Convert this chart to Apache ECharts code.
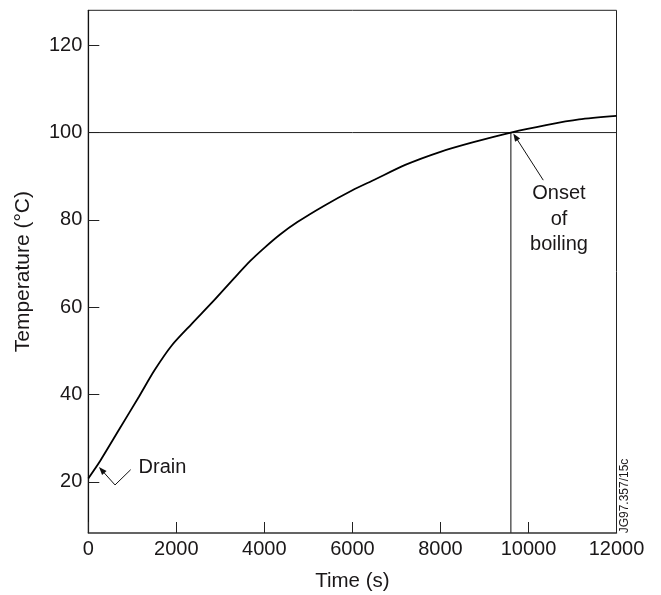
<!DOCTYPE html>
<html>
<head>
<meta charset="utf-8">
<script src="https://cdn.jsdelivr.net/npm/echarts@6/dist/echarts.min.js"></script>
<style>html,body{margin:0;padding:0;background:#fff;}#c{width:661px;height:595px;}</style>
</head>
<body>
<div id="c"></div>
<script>
// Data
var timeS = [0, 250, 700, 1150, 1500, 1900, 2350, 2850, 3300, 3680, 4000, 4350, 4750, 5350, 6000, 6500, 7200, 8000, 8750, 9600, 10400, 11150, 12000];
var tempC = [20.8, 24.5, 32.0, 39.5, 45.5, 51.3, 56.2, 61.5, 66.5, 70.6, 73.6, 76.6, 79.5, 83.2, 86.8, 89.2, 92.6, 95.6, 97.8, 100.0, 101.7, 103.0, 103.8];
var xTicks = [0, 2000, 4000, 6000, 8000, 10000, 12000];
var yTicks = [20, 40, 60, 80, 100, 120];
var X_MIN = 0, X_MAX = 12000, Y_MIN = 8.3, Y_MAX = 128;
var boilLineX = [0, 12000];
var boilLineY = [100, 100];
var onsetX = [9600, 9600];
var onsetY = [100, Y_MIN];
var drainArrowX = [963, 607, 243];
var drainArrowY = [22.8, 19.3, 23.4];
var onsetArrowX = [10336, 9655];
var onsetArrowY = [89.1, 99.8];
var drainLabel = {x: 1686, y: 23.2, text: 'Drain'};
var onsetLabel = {x: 10693, y: 80.2, text: 'Onset\nof\nboiling'};
var stampText = 'JG97.357/15c';

var FONT = '"Liberation Sans", Arial, Helvetica, sans-serif';
var TXT = '#1a1718';
var chart = echarts.init(document.getElementById('c'));

function pairs(xs, ys){ return xs.map(function(v,i){ return [v, ys[i]]; }); }

chart.setOption({
  animation: false,
  backgroundColor: '#fff',
  grid: {left: 88.3, right: 44.5, top: 10.3, bottom: 62, outerBoundsMode: 'none', containLabel: false,
    show: true, borderColor: '#222', borderWidth: 1, backgroundColor: 'transparent'},
  xAxis: {
    type: 'value', min: X_MIN, max: X_MAX, interval: 2000,
    name: 'Time (s)', nameLocation: 'middle', nameGap: 38,
    nameTextStyle: {fontFamily: FONT, fontSize: 20.5, color: TXT},
    axisLine: {show: true, lineStyle: {color: '#555', width: 1.5}},
    axisTick: {show: true, inside: true, length: 11, lineStyle: {color: '#222', width: 1}},
    axisLabel: {fontFamily: FONT, fontSize: 20, color: TXT, margin: 6, showMinLabel: true, showMaxLabel: true,
      formatter: function(v){ return String(v); }},
    splitLine: {show: false}
  },
  yAxis: {
    type: 'value', min: Y_MIN, max: Y_MAX,
    name: 'Temperature (\u00B0C)', nameLocation: 'middle', nameGap: 55,
    nameTextStyle: {fontFamily: FONT, fontSize: 21, color: TXT},
    axisLine: {show: true, lineStyle: {color: '#111', width: 1.2}},
    axisTick: {show: true, inside: true, length: 11, customValues: yTicks, lineStyle: {color: '#222', width: 1}},
    axisLabel: {fontFamily: FONT, fontSize: 20, color: TXT, margin: 6, customValues: yTicks,
      formatter: function(v){ return String(v); }},
    splitLine: {show: false}
  },
  series: [
    {type: 'line', data: pairs(timeS, tempC), smooth: 0.25, symbol: 'none', lineStyle: {color: '#000', width: 1.8}, z: 5},
    {type: 'line', data: pairs(boilLineX, boilLineY), symbol: 'none', lineStyle: {color: '#222', width: 1}, z: 3},
    {type: 'line', data: pairs(onsetX, onsetY), symbol: 'none', lineStyle: {color: '#333', width: 1.2}, z: 3}
  ]
});

// Annotations placed through the chart's own coordinate conversion
function px(x, y){ return chart.convertToPixel({gridIndex: 0}, [x, y]); }
function arrowGraphics(xs, ys){
  var pts = xs.map(function(v, i){ return px(v, ys[i]); });
  var tip = pts[pts.length - 1], prev = pts[pts.length - 2];
  var dx = tip[0] - prev[0], dy = tip[1] - prev[1];
  var L = Math.sqrt(dx*dx + dy*dy); dx /= L; dy /= L;
  var len = 8, half = 3;
  var bx = tip[0] - dx*len, by = tip[1] - dy*len;
  var head = [tip, [bx - dy*half, by + dx*half], [bx + dy*half, by - dx*half]];
  var shaft = pts.slice(0, -1).concat([[tip[0] - dx*len*0.7, tip[1] - dy*len*0.7]]);
  return [
    {type: 'polyline', shape: {points: shaft}, style: {stroke: '#111', lineWidth: 1, fill: null}, z: 10},
    {type: 'polygon', shape: {points: head}, style: {fill: '#111', stroke: null}, z: 10}
  ];
}
var dPos = px(drainLabel.x, drainLabel.y);
var oPos = px(onsetLabel.x, onsetLabel.y);
var g = [
  {type: 'text', x: dPos[0], y: dPos[1], z: 10,
    style: {text: drainLabel.text, font: '20px ' + FONT, fill: TXT, align: 'center', verticalAlign: 'middle'}},
  {type: 'text', x: oPos[0], y: oPos[1], z: 10,
    style: {text: onsetLabel.text, font: '20px ' + FONT, fill: TXT, align: 'center', verticalAlign: 'middle', lineHeight: 25.5}},
  {type: 'text', x: 625, y: 496, rotation: Math.PI / 2, z: 10,
    style: {text: stampText, font: '12px ' + FONT, fill: TXT, align: 'center', verticalAlign: 'middle'}}
].concat(arrowGraphics(drainArrowX, drainArrowY)).concat(arrowGraphics(onsetArrowX, onsetArrowY));
chart.setOption({graphic: g});
</script>
</body>
</html>
